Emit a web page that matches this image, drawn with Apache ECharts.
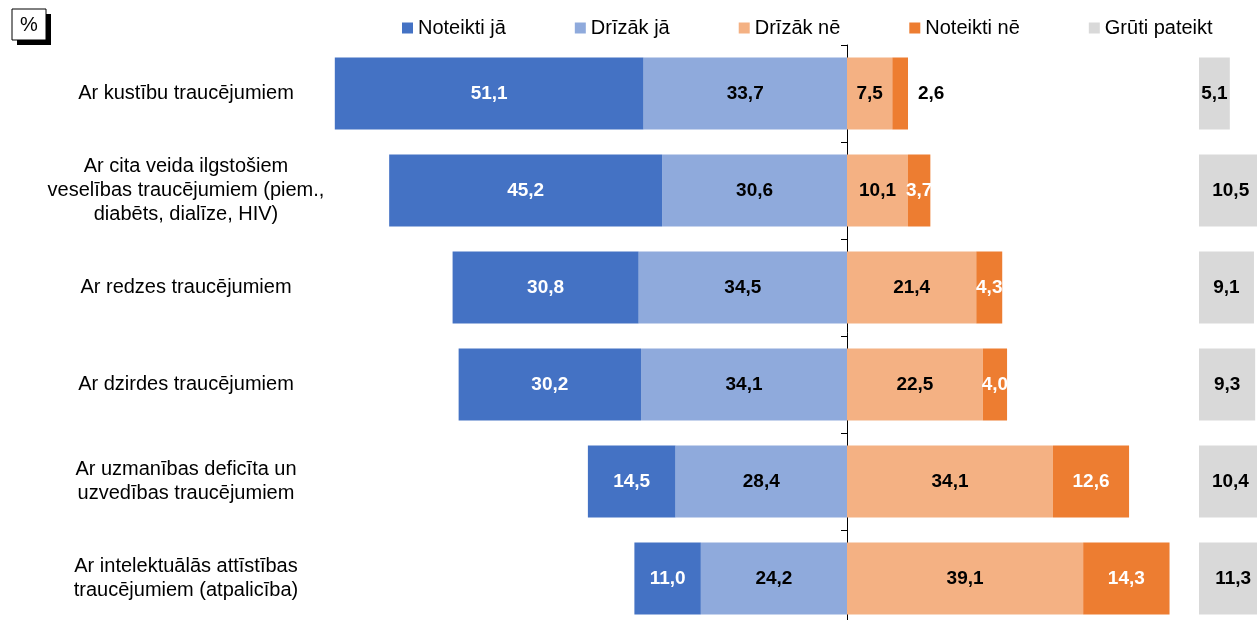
<!DOCTYPE html>
<html>
<head>
<meta charset="utf-8">
<script src="https://cdn.jsdelivr.net/npm/echarts@6/dist/echarts.min.js"></script>
<style>
  html, body { margin: 0; padding: 0; background: #fff; }
  #chart { width: 1257px; height: 620px; }
</style>
</head>
<body>
<div id="chart"></div>
<script>
const categories = [
  "Ar kustību traucējumiem",
  "Ar cita veida ilgstošiem\nveselības traucējumiem (piem.,\ndiabēts, dialīze, HIV)",
  "Ar redzes traucējumiem",
  "Ar dzirdes traucējumiem",
  "Ar uzmanības deficīta un\nuzvedības traucējumiem",
  "Ar intelektuālās attīstības\ntraucējumiem (atpalicība)"
];
const noteiktiJa = [51.1, 45.2, 30.8, 30.2, 14.5, 11.0];
const drizakJa = [33.7, 30.6, 34.5, 34.1, 28.4, 24.2];
const drizakNe = [7.5, 10.1, 21.4, 22.5, 34.1, 39.1];
const noteiktiNe = [2.6, 3.7, 4.3, 4.0, 12.6, 14.3];
const grutiPateikt = [5.1, 10.5, 9.1, 9.3, 10.4, 11.3];

const font = "Liberation Sans, Arial, sans-serif";
const px = 6.04;        // pixels per percent
const zeroX = 847;
const gridLeft = zeroX - 90 * px;
const gridTop = 45;
const gridHeight = 582;

const fmt = (v) => Math.abs(v).toFixed(1).replace(".", ",");

const labelStyle = (color) => ({
  show: true,
  position: "inside",
  color: color,
  fontFamily: font,
  fontWeight: "bold",
  fontSize: 19,
  formatter: (p) => fmt(p.value)
});

const chart = echarts.init(document.getElementById("chart"));

const option = {
  animation: false,
  textStyle: { fontFamily: font },
  legend: {
    data: ["Noteikti jā", "Drīzāk jā", "Drīzāk nē", "Noteikti nē", "Grūti pateikt"],
    left: 397,
    top: 13,
    icon: "rect",
    itemWidth: 11,
    itemHeight: 11,
    itemGap: 69,
    textStyle: { fontSize: 20, color: "#000", fontFamily: font }
  },
  graphic: [
    { type: "rect", shape: { x: 17, y: 14, width: 34, height: 31 }, style: { fill: "#000" } },
    { type: "rect", shape: { x: 12, y: 9, width: 34, height: 31 }, style: { fill: "#fff", stroke: "#000", lineWidth: 1 } },
    { type: "text", x: 29, y: 25, style: { text: "%", fill: "#000", font: "20px " + font, align: "center", verticalAlign: "middle" } }
  ],
  grid: [
    { left: gridLeft, width: 150 * px, top: gridTop, height: gridHeight, outerBoundsMode: "none", containLabel: false },
    { left: 1199, width: 100, top: gridTop, height: gridHeight, outerBoundsMode: "none", containLabel: false }
  ],
  xAxis: [
    { type: "value", gridIndex: 0, min: -90, max: 60, show: false },
    { type: "value", gridIndex: 1, min: 0, max: 100 / px, show: false }
  ],
  yAxis: [
    {
      type: "category",
      gridIndex: 0,
      data: categories,
      inverse: true,
      axisLine: { onZero: true, lineStyle: { color: "#000", width: 1 } },
      axisTick: { show: true, length: 6, lineStyle: { color: "#000" } },
      axisLabel: {
        align: "center",
        margin: gridLeft - 186,
        fontSize: 20,
        lineHeight: 24,
        color: "#000",
        fontFamily: font
      }
    },
    {
      type: "category",
      gridIndex: 1,
      data: categories,
      inverse: true,
      show: false
    }
  ],
  series: [
    {
      name: "Drīzāk jā",
      type: "bar",
      stack: "total",
      barWidth: "74%",
      itemStyle: { color: "#8FAADC" },
      label: labelStyle("#000"),
      data: drizakJa.map((v) => -v)
    },
    {
      name: "Noteikti jā",
      type: "bar",
      stack: "total",
      barWidth: "74%",
      itemStyle: { color: "#4472C4" },
      label: labelStyle("#fff"),
      data: noteiktiJa.map((v) => -v)
    },
    {
      name: "Drīzāk nē",
      type: "bar",
      stack: "total",
      barWidth: "74%",
      itemStyle: { color: "#F4B183" },
      label: labelStyle("#000"),
      data: drizakNe
    },
    {
      name: "Noteikti nē",
      type: "bar",
      stack: "total",
      barWidth: "74%",
      itemStyle: { color: "#ED7D31" },
      label: labelStyle("#fff"),
      data: noteiktiNe.map((v) =>
        v < 3 ? { value: v, label: { position: "right", distance: 10, color: "#000" } } : v
      )
    },
    {
      name: "Grūti pateikt",
      type: "bar",
      xAxisIndex: 1,
      yAxisIndex: 1,
      barWidth: "74%",
      itemStyle: { color: "#D9D9D9" },
      label: labelStyle("#000"),
      data: grutiPateikt
    }
  ]
};

chart.setOption(option);
</script>
</body>
</html>
